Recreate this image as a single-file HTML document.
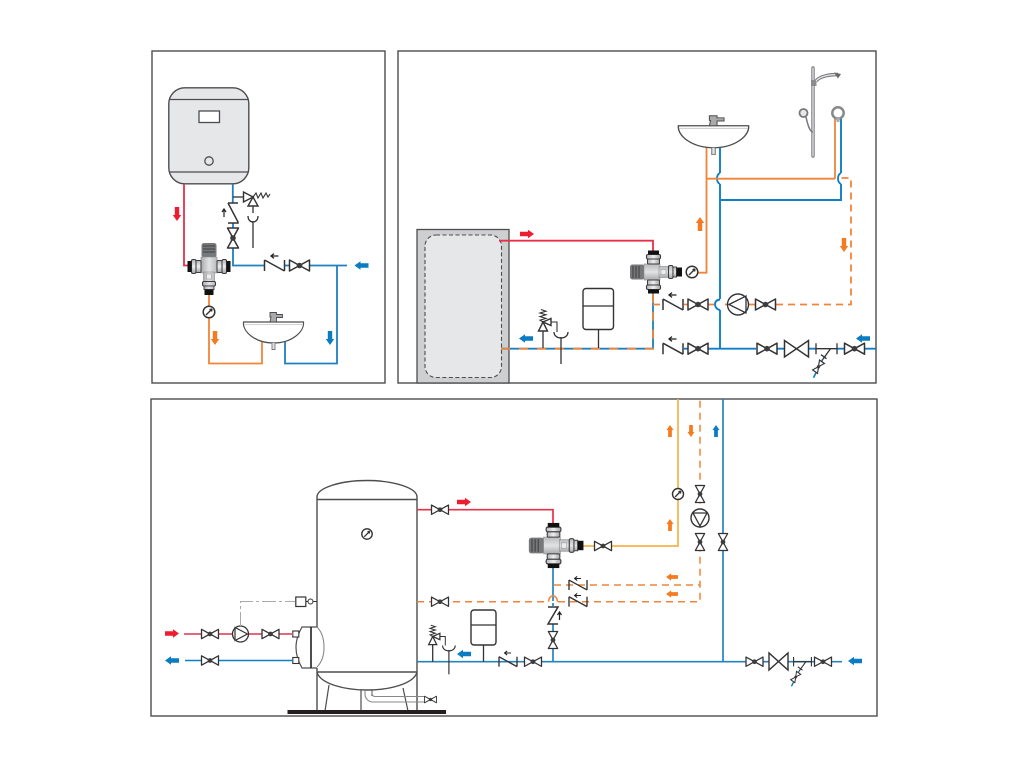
<!DOCTYPE html>
<html><head><meta charset="utf-8"><style>
html,body{margin:0;padding:0;background:#fff}
svg{display:block}
</style></head><body>
<svg xmlns="http://www.w3.org/2000/svg" width="1024" height="768" viewBox="0 0 1024 768" fill="none">
<defs>
<linearGradient id="sil" x1="0" y1="0" x2="1" y2="0"><stop offset="0" stop-color="#b4b5b7"/><stop offset=".5" stop-color="#eeeeef"/><stop offset="1" stop-color="#a4a5a7"/></linearGradient>
<linearGradient id="bod" x1="0" y1="0" x2="0" y2="1"><stop offset="0" stop-color="#b9babc"/><stop offset=".5" stop-color="#e2e3e4"/><stop offset="1" stop-color="#a9aaac"/></linearGradient>
<g id="v"><path d="M-10,-5.500V5.500L10,-5.500V5.500Z" fill="#fff" stroke="#333335" stroke-width="1.500" stroke-linejoin="round"/><circle r="2.800" fill="#3c3c3e"/></g>
<g id="c"><path d="M-10,-5.500V5.500M-10,-5.500L10,5.500M10,-5.500V5.500" stroke="#333335" stroke-width="1.500"/></g>
<g id="sa"><path d="M-4,0H3.500M-1,-2.400L-4,0L-1,2.400" stroke="#222" stroke-width="1.300"/></g>
<path id="a" d="M-7,-2.200H1V-4.200L7,0L1,4.200V2.200H-7Z"/>
<g id="g"><circle r="5.800" fill="#fff" stroke="#333335" stroke-width="1.500"/><path d="M-3,3L3,-3M3,-3L0.500,-2.500M3,-3L2.500,-0.500" stroke="#333335" stroke-width="1.400"/></g>
<g id="m">
<rect x="-23" y="-7.500" width="14.500" height="15" rx="2.500" fill="#77787a"/>
<path d="M-20,-6V6M-17,-6V6M-14,-6V6" stroke="#4a4b4d" stroke-width="1.300"/>
<rect x="-9" y="-8" width="16" height="16" fill="url(#bod)" stroke="#8a8b8d" stroke-width=".6"/>
<rect x="6" y="-5.500" width="10" height="11" fill="url(#bod)" stroke="#8a8b8d" stroke-width=".6"/>
<rect x="8" y="-2.500" width="5" height="5" fill="#eee" stroke="#8a8b8d" stroke-width=".5"/>
<rect x="-6.500" y="-17.500" width="14" height="4.500" rx="1.500" fill="url(#sil)" stroke="#3c3c3e" stroke-width="1.100"/>
<rect x="-5.500" y="-13" width="12" height="5" rx="1" fill="url(#sil)" stroke="#3c3c3e" stroke-width="1"/>
<rect x="-6.500" y="13" width="14" height="4.500" rx="1.500" fill="url(#sil)" stroke="#3c3c3e" stroke-width="1.100"/>
<rect x="-5.500" y="8" width="12" height="5" rx="1" fill="url(#sil)" stroke="#3c3c3e" stroke-width="1"/>
<rect x="-5" y="-21.500" width="11" height="4" fill="#111"/>
<rect x="-5" y="17.500" width="11" height="4" fill="#111"/>
<rect x="15.500" y="-6.500" width="4.500" height="13" rx="1.500" fill="url(#bod)" stroke="#3c3c3e" stroke-width="1.100"/>
<rect x="20" y="-5" width="3.500" height="10" fill="url(#bod)" stroke="#3c3c3e" stroke-width=".9"/>
<rect x="23.500" y="-4.500" width="5.500" height="9" fill="#111"/>
</g>
<g id="sink">
<path d="M-30,0H30C31,10 18,21 0,21C-18,21 -31,10 -30,0Z" fill="#fff" stroke="#4d4d4f" stroke-width="1.200"/>
<path d="M-29,2.500H29" stroke="#c4c4c6" stroke-width=".8"/>
<path d="M-1.500,21V27.500H1.500V21" fill="#e4e4e6" stroke="#77787a" stroke-width=".9"/>
<path d="M-3.500,0L-2.500,-5H-3.500V-9.500H3V-7.500H9V-4.500H3L3,0Z" fill="#a9aaac" stroke="#4d4d4f" stroke-width=".9"/>
</g>
<g id="s">
<path d="M0,0L-4.500,9H4.500Z" fill="#fff" stroke="#333335" stroke-width="1.400"/>
<path d="M0,0L8,-3.500V3.500Z" fill="#fff" stroke="#333335" stroke-width="1.400"/>
<path d="M8,0H14V10M0,0L-3,-1.800L3,-3.600L-3,-5.400L3,-7.200L-3,-9L3,-10.800L-2,-12.500" stroke="#333335" stroke-width="1.100"/>
<path d="M11,10C11,18 25,18 25,10" stroke="#333335" stroke-width="1.300"/>
<path d="M18,15V42" stroke="#333335" stroke-width="1.300"/>
</g>
<g id="drain">
<path d="M-10.500,0H10.500M-10.500,-5.500V5.500M10.500,-5.500V5.500M4,0L-4,11" stroke="#333335" stroke-width="1.300"/>
<path d="M-5.500,6L0,10" stroke="#333335" stroke-width="1.300"/>
<path d="M-4,11L-13,29" stroke="#0f7fc6" stroke-width="1.700"/>
<g transform="translate(-8,18) rotate(-55) scale(.6,.55)"><path d="M-10,-5.500V5.500L10,-5.500V5.500Z" fill="#fff" stroke="#333335" stroke-width="2"/><circle r="3" fill="#3c3c3e"/></g>
</g>
</defs>

<!-- panels -->
<g stroke="#4d4d4f" stroke-width="1.400" fill="#fff">
<rect x="152" y="51" width="233" height="332"/>
<rect x="398" y="51" width="478" height="332"/>
<rect x="151" y="399" width="726" height="317"/>
</g>

<!-- PANEL 1 -->
<rect x="168.800" y="87.800" width="80" height="96" rx="16" fill="#e6e7e9" stroke="#4d4d4f" stroke-width="1.400"/>
<path d="M169,99.500H249M169,172H249" stroke="#4d4d4f" stroke-width="1.300"/>
<rect x="199" y="111" width="20.500" height="11.500" fill="#fff" stroke="#4d4d4f" stroke-width="1.300"/>
<circle cx="209" cy="161" r="4.200" stroke="#4d4d4f" stroke-width="1.300"/>
<path d="M184,184V265.500H190" stroke="#e8304a" stroke-width="1.800"/>
<path d="M232.800,184V203M233,223V265.500H264M285,265.500H289M310,265.500H347M337,265.500V363.500H285V342" stroke="#1f80bd" stroke-width="1.800"/>
<path d="M209,293V363.500H262V342" stroke="#f0853a" stroke-width="1.800"/>
<path d="M233,197H243" stroke="#333335" stroke-width="1.300"/>
<path d="M243.500,192V202L253,197Z" fill="#fff" stroke="#333335" stroke-width="1.400"/>
<path d="M253,197L248,206H258Z" fill="#fff" stroke="#333335" stroke-width="1.400"/>
<path d="M253,197L256,193L258,198L261,193L263,198L266,193L268,197L270,194" stroke="#333335" stroke-width="1.100"/>
<path d="M253,206V213M248,216C248,224 258,224 258,216M253,221V248" stroke="#333335" stroke-width="1.300"/>
<path d="M228,203H238M228,203L238,222V223H228" stroke="#333335" stroke-width="1.500"/>
<path d="M224,217V210M222,212L224,209L226,212" stroke="#222" stroke-width="1.200"/>
<use href="#v" transform="translate(233,238) rotate(90)"/>
<use href="#c" transform="translate(274.500,265.500)"/>
<use href="#sa" transform="translate(275,256)"/>
<use href="#v" transform="translate(299.500,265.500)"/>
<use href="#m" transform="translate(209,266) rotate(90)"/>
<use href="#g" x="209" y="312"/>
<use href="#sink" x="273.500" y="322"/>
<use href="#a" transform="translate(177,214) rotate(90)" fill="#ed1c2e"/>
<use href="#a" transform="translate(215,338) rotate(90)" fill="#f47b20"/>
<use href="#a" transform="translate(330,338) rotate(90)" fill="#0a7cc1"/>
<use href="#a" transform="translate(361.500,265.500) rotate(180)" fill="#0a7cc1"/>

<!-- PANEL 2 -->
<rect x="417" y="229.500" width="92" height="153.500" fill="#cdcfd1" stroke="#4d4d4f" stroke-width="1.300"/>
<rect x="425" y="235" width="76.500" height="142.500" rx="11" fill="#e6e7e9" stroke="#4d4d4f" stroke-width="1.100" stroke-dasharray="4 2.500"/>
<path d="M499,240.700H653V252" stroke="#e8304a" stroke-width="1.800"/>
<path d="M501,348.700H653V293" stroke="#1f80bd" stroke-width="1.800"/>
<path d="M501,348.700H653V293" stroke="#f0853a" stroke-width="1.800" stroke-dasharray="9 9"/>
<use href="#a" transform="translate(527,234)" fill="#ed1c2e"/>
<use href="#a" transform="translate(526,338.500) rotate(180)" fill="#0a7cc1"/>
<path d="M543,331V348M598.500,329V348" stroke="#333335" stroke-width="1.300"/>
<use href="#s" transform="translate(543,322)"/>
<rect x="583" y="288.500" width="30.500" height="41" rx="3" fill="#fff" stroke="#333335" stroke-width="1.400"/>
<path d="M583,306H613.500" stroke="#333335" stroke-width="1.300"/>
<path d="M684,348.700H688M708,348.700H756M777,348.700H784M809,348.700H816M837,348.700H844M865,348.700H876" stroke="#0f7fc6" stroke-width="1.900"/>
<path d="M653,304.500H663M684,304.500H688M708,304.500H714M725,304.500H727M749,304.500H755M776,304.500H851V178H841" stroke="#f0853a" stroke-width="1.800" stroke-dasharray="7 5"/>
<path d="M720,348.700V310M720,299V184M720,173V147M841,118V173M841,184V200H720" stroke="#0f7fc6" stroke-width="1.900"/>
<path d="M720,299.500C716,300 715,302 715,304.500C715,307 717,309.500 720,310" stroke="#0f7fc6" stroke-width="1.900"/>
<path d="M720,173C717.500,174 717,176 717,178.700C717,181 718,183 720,184M841,173C838.500,174 838,176 838,178.700C838,181 839,183 841,184" stroke="#0f7fc6" stroke-width="1.800"/>
<path d="M706.500,147V272.700H698M706.500,178.700H835M835,178.700V118" stroke="#f0853a" stroke-width="1.800"/>
<use href="#m" x="653" y="272"/>
<use href="#g" x="692" y="272"/>
<use href="#c" transform="translate(673,304.500)"/>
<use href="#c" transform="translate(673,348.700)"/>
<use href="#sa" transform="translate(673,295)"/>
<use href="#sa" transform="translate(673,339)"/>
<use href="#v" x="698" y="304.500"/>
<use href="#v" x="698" y="348.700"/>
<circle cx="738" cy="304.500" r="10.500" fill="#fff" stroke="#333335" stroke-width="1.400"/>
<path d="M729,304.500L746,296V313Z" stroke="#333335" stroke-width="1.300"/>
<use href="#v" x="765.500" y="304.500"/>
<use href="#v" x="767" y="348.700"/>
<path d="M784.500,340.500V357L808.500,340.500V357Z" fill="#fff" stroke="#333335" stroke-width="1.500"/>
<use href="#drain" transform="translate(826.500,348.700)"/>
<use href="#v" x="854.500" y="348.700"/>
<use href="#a" transform="translate(863,338.500) rotate(180)" fill="#0a7cc1"/>
<use href="#a" transform="translate(700,224) rotate(-90)" fill="#f47b20"/>
<use href="#a" transform="translate(844,245) rotate(90)" fill="#f47b20"/>
<use href="#sink" transform="translate(713.500,125.700) scale(1.170,1.050)"/>
<!-- shower -->
<path d="M813,68V156" stroke="#77787a" stroke-width="3.400" stroke-linecap="round"/>
<path d="M813,68V156" stroke="#e8e8ea" stroke-width="1.300" stroke-linecap="round"/>
<rect x="811" y="80" width="5.500" height="6" fill="#8a8b8d"/>
<path d="M816,81C820,76 830,74.500 838,74.500" stroke="#77787a" stroke-width="3.400"/>
<path d="M816,81C820,76 830,74.500 838,74.500" stroke="#e8e8ea" stroke-width="1.300"/>
<path d="M834,72.500L841,74L838,78.500Z" fill="#66676a"/>
<circle cx="803.500" cy="113" r="4" fill="#e8e8ea" stroke="#77787a" stroke-width="1.800"/>
<path d="M806,117C808,126 810,132 813,132" stroke="#77787a" stroke-width="1.500"/>
<circle cx="838" cy="113" r="5.700" fill="#fff" stroke="#88898b" stroke-width="2.500"/>
<rect x="836.500" y="117" width="3" height="5" fill="#aaa"/>

<!-- PANEL 3 -->
<path d="M317,627V497C317,488 340,480.500 367,480.500C394,480.500 417,488 417,497V711" fill="#fff" stroke="#4d4d4f" stroke-width="1.400"/>
<path d="M317,499.500H417" stroke="#4d4d4f" stroke-width="1.400"/>
<use href="#g" transform="translate(367,534) scale(.9)"/>
<path d="M317,668V711M317,672H417" stroke="#4d4d4f" stroke-width="1.400"/>
<path d="M317,672C320,684 345,690 367,690C389,690 414,684 417,672" stroke="#4d4d4f" stroke-width="1.400"/>
<path d="M329,685L325,711M403,688L408,711M361,690V711M372,690V696" stroke="#4d4d4f" stroke-width="1.200"/>
<path d="M365,691V694C365,699 369,702 373,702H424M372,691V693C372,695 373,696.500 375,696.500H424" stroke="#888" stroke-width="1.100"/>
<use href="#v" transform="translate(430.500,699.500) scale(.6)"/>
<rect x="287.500" y="710" width="158.500" height="4" fill="#231f20"/>
<path d="M317,627H302C298,634 296,640 296,647.500C296,655 298,661 302,668H317" fill="#fff" stroke="#4d4d4f" stroke-width="1.200"/>
<path d="M311,627V668" stroke="#222" stroke-width="1.600"/>
<path d="M317,627C322,632 324,640 324,647.500C324,655 322,662 317,667" stroke="#888" stroke-width="1.100"/>
<rect x="292.800" y="631" width="6" height="6" fill="#fff" stroke="#333335" stroke-width="1.100"/>
<rect x="292.800" y="657.500" width="6" height="6" fill="#fff" stroke="#333335" stroke-width="1.100"/>
<path d="M184,634H293" stroke="#df5369" stroke-width="1.700"/>
<path d="M185,660.500H293" stroke="#0f7fc6" stroke-width="1.600"/>
<use href="#v" transform="translate(210,634) scale(.85)"/>
<use href="#v" transform="translate(210,660.500) scale(.85)"/>
<use href="#v" transform="translate(270.500,634) scale(.85)"/>
<circle cx="240.500" cy="634" r="8" fill="#fff" stroke="#333335" stroke-width="1.300"/>
<path d="M247.500,634L235,627.500V640.500Z" stroke="#333335" stroke-width="1.200"/>
<use href="#a" transform="translate(172,633.500)" fill="#ed1c2e"/>
<use href="#a" transform="translate(172,660.500) rotate(180)" fill="#0a7cc1"/>
<path d="M240.500,626V601.500H295" stroke="#aaa" stroke-width="1" stroke-dasharray="14 3 3 3"/>
<rect x="295.800" y="597" width="10" height="9.500" fill="#fff" stroke="#333335" stroke-width="1.200"/>
<path d="M306,601.500H308M313,601.500H317" stroke="#333335"/>
<circle cx="310.500" cy="601.500" r="2.500" fill="#fff" stroke="#333335"/>
<path d="M417,509.700H553V524" stroke="#e8304a" stroke-width="1.700"/>
<use href="#v" transform="translate(440,509.700) scale(.85)"/>
<use href="#a" transform="translate(464,502)" fill="#ed1c2e"/>
<path d="M417,601.700H548M558,601.700H700V399M554,585H700" stroke="#f0853a" stroke-width="1.500" stroke-dasharray="7 5"/>
<path d="M417,661.700H842M553,568V601M553,603V606M553,624V661.700" stroke="#2583bf" stroke-width="1.700"/>
<path d="M548.500,601.700C549,594 557,594 557.500,601.700" stroke="#f0853a" stroke-width="1.500"/>
<path d="M723,399V661.700" stroke="#2583bf" stroke-width="1.700"/>
<path d="M582,546H678V399" stroke="#f8b348" stroke-width="1.700"/>
<use href="#v" transform="translate(440,601.700) scale(.85)"/>
<use href="#m" transform="translate(553,545.500) scale(1.050)"/>
<use href="#v" transform="translate(603,546) scale(.85)"/>
<use href="#c" transform="translate(578,585) scale(.9,.9)"/>
<use href="#c" transform="translate(578,601.700) scale(.9,.9)"/>
<use href="#sa" transform="translate(578,578.500) scale(.85)"/>
<use href="#sa" transform="translate(578,595.500) scale(.85)"/>
<path d="M548,607H558L548,624H558" stroke="#333335" stroke-width="1.500"/>
<path d="M559.500,620V613M557.500,615L559.500,612L561.500,615" stroke="#222" stroke-width="1.200"/>
<use href="#v" transform="translate(553,640) rotate(90) scale(.85)"/>
<rect x="471" y="610" width="25" height="35" rx="3" fill="#fff" stroke="#333335" stroke-width="1.400"/>
<path d="M471,625H496M483.500,645V661.700" stroke="#333335" stroke-width="1.300"/>
<use href="#a" transform="translate(464,654) rotate(180)" fill="#0a7cc1"/>
<use href="#s" transform="translate(432.700,636.500) scale(.9)"/>
<path d="M432.700,645V661.700" stroke="#333335" stroke-width="1.300"/>
<use href="#c" transform="translate(508,661.700) scale(.9)"/>
<use href="#sa" transform="translate(508,653) scale(.85)"/>
<use href="#v" transform="translate(533,661.700) scale(.85)"/>
<use href="#g" transform="translate(678,494) scale(.95)"/>
<use href="#v" transform="translate(700,494) rotate(90) scale(.85)"/>
<circle cx="700" cy="518" r="9" fill="#fff" stroke="#333335" stroke-width="1.400"/>
<path d="M700,526L693,513H707Z" stroke="#333335" stroke-width="1.300"/>
<use href="#v" transform="translate(700,542) rotate(90) scale(.85)"/>
<use href="#v" transform="translate(723,542) rotate(90) scale(.85)"/>
<use href="#a" transform="translate(670,431) rotate(-90) scale(.85)" fill="#f47b20"/>
<use href="#a" transform="translate(691,431) rotate(90) scale(.85)" fill="#f47b20"/>
<use href="#a" transform="translate(716,431) rotate(-90) scale(.85)" fill="#0a7cc1"/>
<use href="#a" transform="translate(670,525) rotate(-90) scale(.85)" fill="#f47b20"/>
<use href="#a" transform="translate(672,577) rotate(180) scale(.85)" fill="#f47b20"/>
<use href="#a" transform="translate(672,594) rotate(180) scale(.85)" fill="#f47b20"/>
<use href="#v" transform="translate(754.500,661.700) scale(.85)"/>
<path d="M769,653V670L788,653V670Z" fill="#fff" stroke="#333335" stroke-width="1.400"/>
<use href="#drain" transform="translate(802.500,661.700) scale(.85)"/>
<use href="#v" transform="translate(823,661.700) scale(.85)"/>
<use href="#a" transform="translate(855,661) rotate(180)" fill="#0a7cc1"/>
</svg>
</body></html>
